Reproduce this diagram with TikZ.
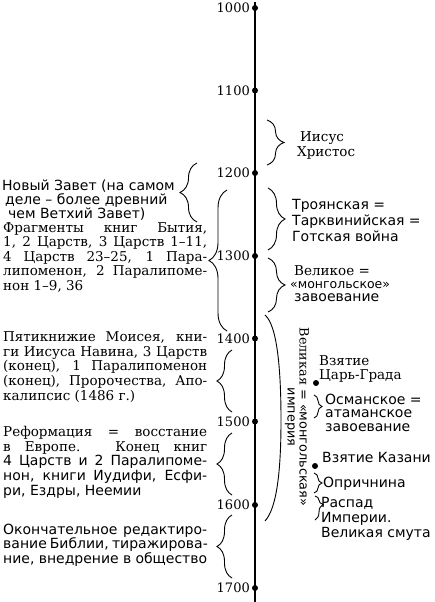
\documentclass[tikz,border=0pt]{standalone}
\usepackage{fontspec}
\setmainfont{DejaVu Serif}
\setsansfont{DejaVu Sans}
\usetikzlibrary{decorations.pathreplacing}
\newcommand\fser{\fontsize{13.5}{14.6}\selectfont}
\newcommand\fsan{\sffamily\fontsize{14}{14.6}\selectfont}
\newcommand\jl[1]{\makebox[204pt][s]{#1}}
\begin{document}
\begin{tikzpicture}[x=1pt,y=-1pt,
  axisline/.style={line width=1.4pt},
  yeardot/.style={circle,fill=black,inner sep=0pt,minimum size=6pt},
  yearlab/.style={font=\fontsize{13}{13}\selectfont,inner sep=0pt,anchor=east},
  txt/.style={inner sep=0pt,anchor=base west,align=left},
  brc/.style={decorate,line width=0.9pt,decoration={brace,amplitude=#1}},
  brc/.default=17pt,
  evdot/.style={circle,fill=black,inner sep=0pt,minimum size=6pt}
]
\fill[white] (0,0) rectangle (434,602);
\useasboundingbox (0,0) rectangle (434,602);

% axis
\coordinate (axtop) at (255,2);
\coordinate (axbot) at (255,602);
\draw[axisline] (axtop) -- (axbot);
\foreach \yr/\yy in {1000/8,1100/90.5,1200/173,1300/256,1400/338.5,1500/421.5,1600/505,1700/588}{
  \node[yeardot] (d\yr) at (255,\yy) {};
  \node[yearlab] (l\yr) at (250,\yy) {\yr};
}

% right braces
\coordinate (r1a) at (267,120); \coordinate (r1b) at (267,165);
\draw[brc] (r1a) -- (r1b);
\coordinate (r2a) at (268,188); \coordinate (r2b) at (268,250);
\draw[brc] (r2a) -- (r2b);
\coordinate (r3a) at (268,258); \coordinate (r3b) at (268,312);
\draw[brc] (r3a) -- (r3b);
\coordinate (r4a) at (314,395); \coordinate (r4b) at (314,418);
\draw[brc=8pt] (r4a) -- (r4b);
\coordinate (r5a) at (314,473); \coordinate (r5b) at (314,493);
\draw[brc=8pt] (r5a) -- (r5b);
\coordinate (r6a) at (315,496); \coordinate (r6b) at (315,520);
\draw[brc=8pt,decoration={aspect=0.35}] (r6a) -- (r6b);

% left braces
\coordinate (l1a) at (197,222); \coordinate (l1b) at (197,163);
\draw[brc] (l1a) -- (l1b);
\coordinate (l2a) at (227,331); \coordinate (l2b) at (227,190);
\draw[brc=18pt] (l2a) -- (l2b);
\coordinate (l3a) at (232,412); \coordinate (l3b) at (232,350);
\draw[brc=15pt] (l3a) -- (l3b);
\coordinate (l4a) at (232,495); \coordinate (l4b) at (232,433);
\draw[brc=15pt] (l4a) -- (l4b);
\coordinate (l5a) at (232,578); \coordinate (l5b) at (232,515);
\draw[brc=15pt] (l5a) -- (l5b);

% big arc
\coordinate (ba) at (265,315);
\coordinate (bm) at (281,420);
\coordinate (bb) at (265,521);
\coordinate (bc1) at (278,326);
\coordinate (bc2) at (281,375);
\coordinate (bc3) at (281,470);
\coordinate (bc4) at (277,508);
\draw[line width=0.9pt] (ba) .. controls (bc1) and (bc2) .. (bm) .. controls (bc3) and (bc4) .. (bb);

\node[rotate=-90,inner sep=0pt,align=center,font=\sffamily\fontsize{12.8}{12}\selectfont] (empire) at (297,417)
  {{\rmfamily Великая} = «монгольская»\\империя};

% event dots
\node[evdot] (dcar) at (316,383) {};
\node[evdot] (dkaz) at (315,466) {};

% right texts (anchor = baseline of last line)
\node[txt,font=\fser] (jesus) at (297,156) {\hspace*{3pt}Иисус\\Христос};
\node[txt,font=\sffamily\fontsize{14}{16}\selectfont] (troy) at (292,241) {Троянская =\\Тарквинийская =\\Готская война};
\node[txt,font=\fontsize{13.5}{13}\selectfont] (mong) at (294,301)
  {Великое =\\\hspace*{-4pt}{\sffamily\fontsize{12.5}{13}\selectfont «монгольское»}\\{\sffamily\fontsize{14}{13}\selectfont завоевание}};
\node[txt,font=\fontsize{13.5}{14}\selectfont] (tsar) at (319,379) {Взятие\\Царь-Града};
\node[txt,font=\sffamily\fontsize{14}{13.5}\selectfont] (osm) at (325,431) {Османское =\\атаманское\\завоевание};
\node[txt,font=\fsan] (kaz) at (322,462) {Взятие Казани};
\node[txt,font=\fsan] (opr) at (323,487) {Опричнина};
\node[txt,font=\sffamily\fontsize{14}{15}\selectfont] (rasp) at (321,537) {Распад\\Империи.\\Великая смута};

% left texts (anchor = baseline of last line)
\node[txt,font=\sffamily\fontsize{14}{14}\selectfont] (nz) at (2,218.3)
  {Новый Завет (на самом\\\hspace*{3pt}деле – более древний\\\hspace*{6pt}чем Ветхий Завет)};
\node[txt,font=\fser] (frag) at (3,290.5)
  {\jl{Фрагменты книг Бытия,}\\\jl{1, 2 Царств, 3 Царств 1–11,}\\\jl{4 Царств 23–25, 1 Пара-}\\\jl{липоменон, 2 Паралипоме-}\\нон 1–9, 36};
\node[txt,font=\fser] (pent) at (3,400)
  {\jl{Пятикнижие Моисея, кни-}\\\jl{ги Иисуса Навина, 3 Царств}\\\jl{(конец), 1 Паралипоменон}\\\jl{(конец), Пророчества, Апо-}\\калипсис (1486 г.)};
\node[txt,font=\fser] (ref) at (3,495)
  {\jl{Реформация = восстание}\\\jl{в Европе. Конец книг}\\{\fsan\jl{4 Царств и 2 Паралипоме-}}\\{\fsan\jl{нон, книги Иудифи, Есфи-}}\\{\fsan ри, Ездры, Неемии}};
\node[txt,font=\fsan] (fin) at (3,563.3)
  {\jl{Окончательное редактиро-}\\\jl{вание Библии, тиражирова-}\\\jl{ние, внедрение в общество}};
\end{tikzpicture}
\end{document}
